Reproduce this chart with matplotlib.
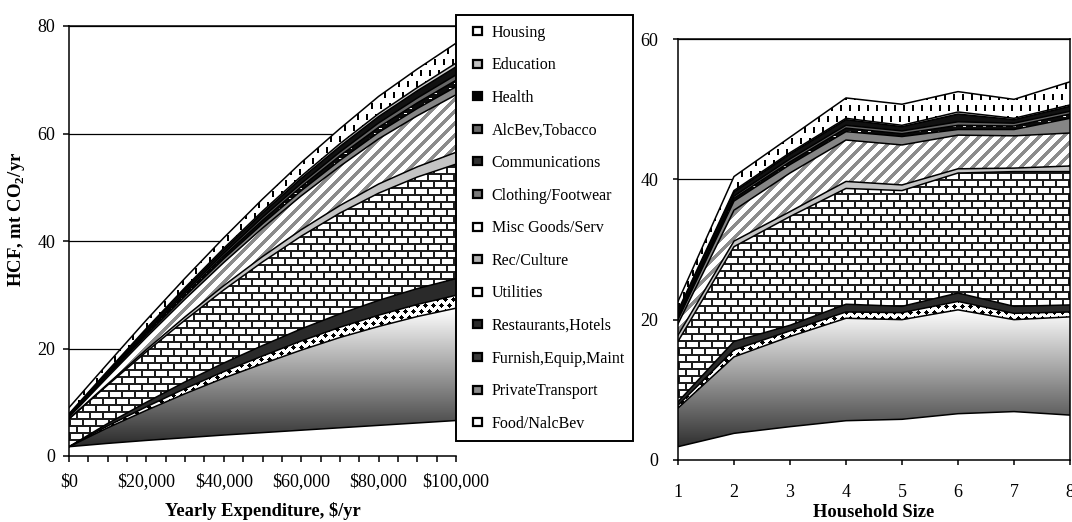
import numpy as np
import matplotlib.pyplot as plt
from matplotlib.patches import Patch, Rectangle
from matplotlib.legend_handler import HandlerPatch
from matplotlib.colors import LinearSegmentedColormap
from matplotlib.ticker import MultipleLocator, FuncFormatter

plt.rcParams['font.family'] = 'Liberation Serif'
plt.rcParams['mathtext.fontset'] = 'custom'
plt.rcParams['mathtext.rm'] = 'Liberation Serif'
plt.rcParams['mathtext.bf'] = 'Liberation Serif:bold'

# stacking order, bottom to top
categories = ['Food/NalcBev', 'PrivateTransport', 'Furnish,Equip,Maint',
              'Restaurants,Hotels', 'Utilities', 'Rec/Culture', 'Misc Goods/Serv',
              'Clothing/Footwear', 'Communications', 'AlcBev,Tobacco', 'Health',
              'Education', 'Housing']

# --- footprint vs yearly expenditure (mt CO2/yr) ---
expenditure = [0, 10000, 20000, 30000, 40000, 50000, 60000, 70000, 80000, 90000, 100000]
food_e = [1.73, 2.35, 2.9, 3.4, 3.9, 4.35, 4.8, 5.25, 5.7, 6.15, 6.6]
transport_e = [0.0, 2.9, 5.6, 8.2, 10.6, 12.8, 14.9, 16.8, 18.4, 19.8, 20.9]
furnish_e = [0.0, 0.35, 0.65, 0.95, 1.2, 1.45, 1.7, 1.9, 2.1, 2.25, 2.4]
restaurants_e = [0.0, 0.45, 0.85, 1.25, 1.6, 1.95, 2.25, 2.5, 2.75, 2.95, 3.1]
utilities_e = [5.17, 7.15, 9.4, 11.5, 13.6, 15.55, 17.25, 18.75, 19.95, 20.75, 21.3]
rec_e = [0.0, 0.2, 0.4, 0.6, 0.8, 1.0, 1.2, 1.4, 1.7, 1.9, 2.2]
misc_e = [0.3, 1.3, 2.3, 3.3, 4.3, 5.3, 6.3, 7.3, 8.4, 9.5, 10.7]
clothing_e = [0.15, 0.3, 0.4, 0.55, 0.7, 0.8, 0.95, 1.1, 1.2, 1.35, 1.5]
comm_e = [0.15, 0.25, 0.35, 0.45, 0.55, 0.65, 0.75, 0.85, 0.95, 1.05, 1.2]
alcbev_e = [0.05, 0.15, 0.25, 0.35, 0.45, 0.55, 0.6, 0.7, 0.8, 0.9, 1.0]
health_e = [0.2, 0.3, 0.45, 0.55, 0.65, 0.8, 0.95, 1.05, 1.2, 1.35, 1.5]
education_e = [0.1, 0.15, 0.2, 0.25, 0.3, 0.35, 0.4, 0.5, 0.55, 0.6, 0.7]
housing_e = [1.15, 1.35, 1.55, 1.75, 1.95, 2.25, 2.55, 2.8, 3.2, 3.45, 3.7]

# --- footprint vs household size ---
hh_size = [1, 2, 3, 4, 5, 6, 7, 8]
food_h = [1.9, 3.8, 4.75, 5.6, 5.8, 6.6, 6.9, 6.4]
transport_h = [5.5, 10.9, 12.85, 14.6, 14.2, 14.8, 13.1, 14.0]
furnish_h = [0.4, 1.0, 0.8, 0.9, 1.0, 1.2, 0.9, 0.7]
restaurants_h = [0.5, 1.2, 0.8, 1.1, 0.9, 1.2, 1.0, 1.0]
utilities_h = [8.6, 13.5, 15.5, 16.5, 16.5, 17.1, 19.2, 19.0]
rec_h = [0.9, 0.8, 0.7, 1.0, 0.8, 0.6, 0.5, 0.8]
misc_h = [1.6, 4.4, 5.5, 5.9, 5.7, 4.8, 4.6, 4.7]
clothing_h = [0.6, 1.3, 1.2, 1.2, 1.2, 0.8, 0.9, 2.1]
comm_h = [0.3, 0.4, 0.4, 0.5, 0.4, 0.6, 0.5, 0.6]
alcbev_h = [0.2, 0.3, 0.4, 0.4, 0.4, 0.5, 0.4, 0.4]
health_h = [0.6, 0.6, 0.7, 0.8, 0.6, 1.1, 0.5, 0.7]
education_h = [0.2, 0.2, 0.2, 0.2, 0.2, 0.3, 0.2, 0.2]
housing_h = [1.3, 2.0, 2.2, 2.9, 3.0, 2.9, 2.7, 3.3]

by_expenditure = [food_e, transport_e, furnish_e, restaurants_e, utilities_e, rec_e,
                  misc_e, clothing_e, comm_e, alcbev_e, health_e, education_e, housing_e]
by_size = [food_h, transport_h, furnish_h, restaurants_h, utilities_h, rec_h,
           misc_h, clothing_h, comm_h, alcbev_h, health_h, education_h, housing_h]

# fill style per series: a colour, or the name of a pixel texture
fills = {
    'Food/NalcBev': 'white',
    'PrivateTransport': 'gradient',
    'Furnish,Equip,Maint': 'diamonds',
    'Restaurants,Hotels': '#2a2a2a',
    'Utilities': 'brick',
    'Rec/Culture': '#c4c4c4',
    'Misc Goods/Serv': 'stripes',
    'Clothing/Footwear': '#858585',
    'Communications': 'comm',
    'AlcBev,Tobacco': '#666666',
    'Health': '#111111',
    'Education': '#cfcfcf',
    'Housing': 'dashes',
}
# legend swatch colours
swatch_colors = {
    'Food/NalcBev': 'white', 'PrivateTransport': '#8a8a8a',
    'Furnish,Equip,Maint': '#3a3a3a', 'Restaurants,Hotels': '#2a2a2a',
    'Utilities': 'white', 'Rec/Culture': '#b0b0b0', 'Misc Goods/Serv': 'white',
    'Clothing/Footwear': '#7a7a7a', 'Communications': '#303030',
    'AlcBev,Tobacco': '#6a6a6a', 'Health': 'black', 'Education': '#c0c0c0',
    'Housing': 'white',
}

grad_cmap = LinearSegmentedColormap.from_list('grad', ['#1c1c1c', '#ffffff'])


def texture(kind, w, h):
    r, c = np.mgrid[0:h, 0:w]
    img = np.ones((h, w))
    if kind == 'brick':
        shift = ((r // 7) % 2) * 6
        img[(r % 7 < 2) | ((c + shift) % 13 < 2)] = 0.12
    elif kind == 'stripes':
        img[(c + r) % 12 < 5] = 0.55
    elif kind == 'dashes':
        shift = ((r // 11) % 2) * 4
        img[(r % 11 < 6) & ((c + shift) % 9 < 2)] = 0.0
    elif kind == 'diamonds':
        shift = ((r // 6) % 2) * 4
        dy = np.abs(r % 6 - 3)
        dx = np.abs((c + shift) % 8 - 4)
        img[dx + dy <= 2] = 0.0
    elif kind == 'comm':
        img[:] = 0.05
        shift = ((r // 5) % 2) * 5
        img[(r % 5 == 2) & ((c + shift) % 10 < 3)] = 1.0
    return np.dstack([img] * 3)


def draw_stack(ax, x, series, xlim, ylim, size_px):
    w, h = size_px
    x = np.asarray(x, dtype=float)
    bottom = np.zeros(len(x))
    for k, (name, vals) in enumerate(zip(categories, series)):
        top = bottom + np.asarray(vals, dtype=float)
        style = fills[name]
        z = 2 + k * 0.01
        if style == 'gradient' or style in ('brick', 'stripes', 'dashes', 'diamonds', 'comm'):
            poly = ax.fill_between(x, bottom, top, facecolor='none', edgecolor='none', zorder=z)
            if style == 'gradient':
                g = np.linspace(1, 0, 256)[:, None]
                im = ax.imshow(g, cmap=grad_cmap, vmin=0, vmax=1, aspect='auto',
                               extent=(xlim[0], xlim[1], 0, top.max()), zorder=z)
            else:
                im = ax.imshow(texture(style, w, h), aspect='auto', interpolation='nearest',
                               extent=(xlim[0], xlim[1], ylim[0], ylim[1]), zorder=z)
            im.set_clip_path(poly.get_paths()[0], transform=ax.transData)
        else:
            ax.fill_between(x, bottom, top, facecolor=style, edgecolor='none', zorder=z)
        ax.plot(x, top, color='black', lw=1.1, zorder=3)
        bottom = top
    ax.set_xlim(*xlim)
    ax.set_ylim(*ylim)


fig = plt.figure(figsize=(10.72, 5.22), dpi=100)

# left panel: expenditure
ax1 = fig.add_axes([69 / 1072, 1 - 456 / 522, 387 / 1072, 430 / 522])
draw_stack(ax1, expenditure, by_expenditure, (0, 100000), (0, 80), (387, 430))
ax1.set_yticks([0, 20, 40, 60, 80])
ax1.xaxis.set_major_locator(MultipleLocator(20000))
ax1.xaxis.set_minor_locator(MultipleLocator(5000))
ax1.xaxis.set_major_formatter(FuncFormatter(lambda v, p: '\\$' + format(int(v), ',')))
ax1.spines['right'].set_visible(False)
ax1.tick_params(axis='y', direction='out', length=4.3, width=1.1, pad=5.5, labelsize=13)
ax1.tick_params(axis='x', which='both', direction='out', length=4.3, width=1.1)
ax1.tick_params(axis='x', which='major', pad=8, labelsize=13)
ax1.set_xlabel('Yearly Expenditure, \\$/yr', fontsize=13.3, fontweight='bold')
ax1.set_ylabel(r'HCF, mt CO$_\mathbf{2}$/yr', fontsize=13.5, fontweight='bold')
ax1.xaxis.set_label_coords(0.5, -0.106)
ax1.yaxis.set_label_coords(-0.108, 0.55)

# right panel: household size
ax2 = fig.add_axes([678 / 1072, 1 - 460 / 522, 392 / 1072, 421 / 522])
draw_stack(ax2, hh_size, by_size, (1, 8), (0, 60), (392, 421))
ax2.set_xticks(hh_size)
ax2.set_yticks([0, 20, 40, 60])
ax2.tick_params(axis='y', direction='out', length=3.6, width=1.1, pad=10.5, labelsize=13)
ax2.tick_params(axis='x', direction='out', length=3.6, width=1.1, pad=14, labelsize=13)
ax2.set_xlabel('Household Size', fontsize=13.3, fontweight='bold')
ax2.xaxis.set_label_coords(0.5, -0.105)

for ax in (ax1, ax2):
    for s in ax.spines.values():
        s.set_linewidth(1.1)
    ax.grid(axis='y', color='black', lw=0.9, zorder=0.5)
    ax.set_axisbelow(True)


def swatch(legend, orig_handle, xdescent, ydescent, width, height, fontsize):
    return Rectangle((5 - xdescent, (height - 5.8) / 2 - ydescent), 6.5, 5.8)


order = categories[::-1]
handles = [Patch(facecolor=swatch_colors[n], edgecolor='black', lw=1.6) for n in order]
fig.legend(handles, order, loc='upper left', mode='expand',
           bbox_to_anchor=(456 / 1072, 0.155, 177 / 1072, 1 - 15 / 522 - 0.155),
           borderaxespad=0, fontsize=11.5, frameon=True, fancybox=False,
           edgecolor='black', framealpha=1, borderpad=0.6, labelspacing=1.04,
           handlelength=1.19, handleheight=0.6, handletextpad=0.44,
           handler_map={Patch: HandlerPatch(patch_func=swatch)}).get_frame().set_linewidth(1.4)

fig.savefig('out.png', dpi=100)
